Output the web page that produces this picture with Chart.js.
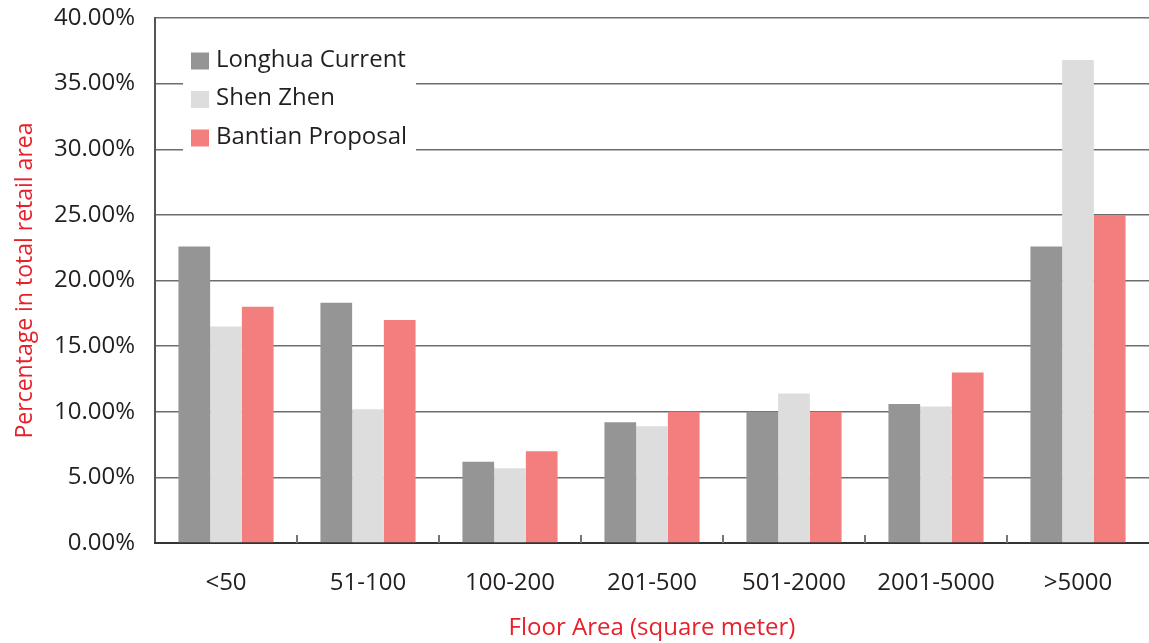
<!DOCTYPE html>
<html>
<head>
<meta charset="utf-8">
<script src="https://cdn.jsdelivr.net/npm/chart.js@4.4.1/dist/chart.umd.min.js"></script>
<style>
  html, body { margin: 0; padding: 0; background: #fff; }
  #wrap { width: 1149px; height: 643px; position: relative; }
</style>
</head>
<body>
<div id="wrap"><canvas id="floor-chart"></canvas></div>
<script>
const floorAreas = ['<50', '51-100', '100-200', '201-500', '501-2000', '2001-5000', '>5000'];
const longhuaCurrent = [22.6, 18.3, 6.2, 9.2, 10.0, 10.6, 22.6];
const shenZhen = [16.5, 10.2, 5.7, 8.9, 11.4, 10.4, 36.8];
const bantianProposal = [18.0, 17.0, 7.0, 10.0, 10.0, 13.0, 25.0];
const seriesNames = ['Longhua Current', 'Shen Zhen', 'Bantian Proposal'];

const FONT = "'Open Sans', sans-serif";
const TEXT = '#231f20';
const RED = '#e8202a';

// legend sits inside the plot, on a white patch over the grid
const insideLegend = {
  id: 'insideLegend',
  beforeDatasetsDraw(chart) {
    const ctx = chart.ctx;
    ctx.save();
    ctx.fillStyle = '#fff';
    ctx.fillRect(183, 36, 233, 124);
    ctx.font = '24px ' + FONT;
    ctx.textBaseline = 'middle';
    chart.data.datasets.forEach((ds, i) => {
      const cy = 61 + i * 38.5;
      ctx.fillStyle = ds.backgroundColor;
      ctx.fillRect(191, cy - 8.5, 18, 17);
      ctx.fillStyle = TEXT;
      ctx.fillText(ds.label, 216, cy - 1);
    });
    ctx.restore();
  }
};

// short inward ticks between the categories on the baseline
const categoryTicks = {
  id: 'categoryTicks',
  afterDatasetsDraw(chart) {
    const x = chart.scales.x;
    const ctx = chart.ctx;
    const base = chart.chartArea.bottom;
    ctx.save();
    ctx.strokeStyle = '#777';
    ctx.lineWidth = 2;
    for (let i = 1; i < floorAreas.length; i++) {
      const px = (x.getPixelForValue(i - 1) + x.getPixelForValue(i)) / 2;
      ctx.beginPath();
      ctx.moveTo(px, base);
      ctx.lineTo(px, base - 8);
      ctx.stroke();
    }
    ctx.restore();
  }
};

const chart = new Chart(document.getElementById('floor-chart'), {
  type: 'bar',
  data: {
    labels: floorAreas,
    datasets: [
      { label: seriesNames[0], data: longhuaCurrent, backgroundColor: '#959595' },
      { label: seriesNames[1], data: shenZhen, backgroundColor: '#dddddd' },
      { label: seriesNames[2], data: bantianProposal, backgroundColor: '#f37e7e' }
    ]
  },
  options: {
    responsive: true,
    maintainAspectRatio: false,
    animation: false,
    categoryPercentage: 0.67,
    barPercentage: 1.0,
    layout: { padding: { top: 18, right: 0, left: 0, bottom: 0 } },
    plugins: {
      legend: { display: false },
      tooltip: { enabled: false }
    },
    scales: {
      y: {
        min: 0,
        max: 40,
        afterFit: s => { s.width = 155; s.paddingTop = 0; s.paddingBottom = 0; },
        ticks: {
          stepSize: 5,
          padding: 20,
          color: TEXT,
          font: { size: 24, family: FONT },
          callback: v => v.toFixed(2) + '%'
        },
        grid: { color: '#6d6d6d', lineWidth: 1.5, drawTicks: false },
        border: { display: true, color: '#555', width: 2 },
        title: {
          display: true,
          text: 'Percentage in total retail area',
          color: RED,
          font: { size: 23, family: FONT },
          padding: { top: 12, bottom: 0 }
        }
      },
      x: {
        afterFit: s => { s.height = 100; },
        ticks: {
          padding: 26,
          color: TEXT,
          font: { size: 24, family: FONT },
          maxRotation: 0
        },
        grid: { display: false, drawTicks: false },
        border: { display: true, color: '#333', width: 2 },
        title: {
          display: true,
          text: 'Floor Area (square meter)',
          color: RED,
          font: { size: 24, family: FONT },
          padding: { top: 0, bottom: 0 }
        }
      }
    }
  },
  plugins: [insideLegend, categoryTicks]
});
</script>
</body>
</html>
